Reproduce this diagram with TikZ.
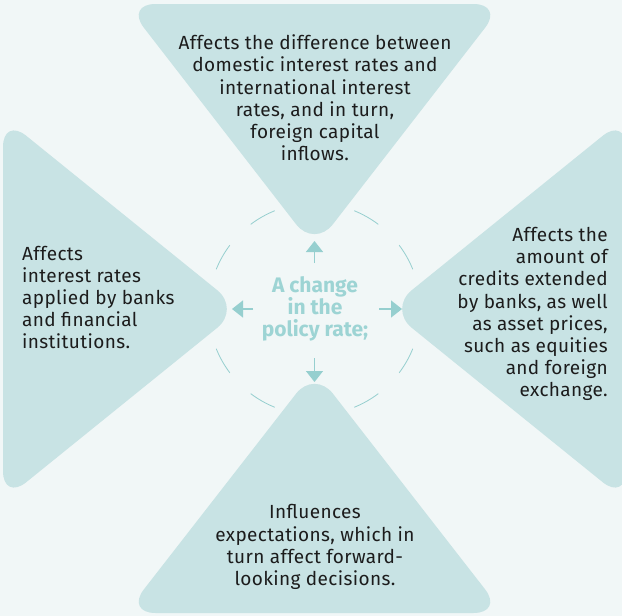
\documentclass[tikz,border=0pt]{standalone}
\usepackage{fontspec}
\setmainfont{Fira Sans}[LetterSpace=2]
\newfontfamily\centerfont{Fira Sans}
\usetikzlibrary{arrows.meta,calc}
\definecolor{bgc}{HTML}{F1F7F7}
\definecolor{tric}{HTML}{C8E3E4}
\definecolor{accent}{HTML}{96CFCF}
\definecolor{ctextc}{HTML}{9DD4D4}
\definecolor{bodyc}{HTML}{1C1C1C}
\tikzset{
  tri/.style={fill=tric, rounded corners=30pt},
  bodytext/.style={text=bodyc, font=\fontsize{19pt}{22.2pt}\selectfont, inner sep=0pt},
  centertext/.style={text=ctextc, font=\centerfont\fontsize{21pt}{21.5pt}\selectfont\bfseries, inner sep=0pt},
  arr/.style={draw=accent, line width=1.3pt, -{Triangle[width=17pt,length=11pt]}},
  dashc/.style={draw=accent, line width=0.8pt}
}
\begin{document}
\begin{tikzpicture}[x=1pt,y=-1pt]
\useasboundingbox (0,0) rectangle (622,616);
\fill[bgc] (0,0) rectangle (622,616);
\begin{scope}
\clip (0,0) rectangle (622,616);
\fill[tri] (125.5,4) -- (503.5,4) -- (314.5,248) -- cycle;
\fill[tri] (3,117) -- (3,501) -- (240.5,309) -- cycle;
\fill[tri] (626,117) -- (626,501) -- (388.5,309) -- cycle;
\fill[tri] (125.5,613) -- (503.5,613) -- (314.5,370) -- cycle;
\end{scope}
\coordinate (O) at (314.5,309);
\foreach \a in {22,53,112,143,202,233,292,323}
  \draw[dashc] (O) ++(\a:106pt) arc[start angle=\a, end angle=\a+15, radius=106pt];
\coordinate (au0) at (314.5,263); \coordinate (au1) at (314.5,241);
\coordinate (ad0) at (314.5,358); \coordinate (ad1) at (314.5,382);
\coordinate (al0) at (253,309); \coordinate (al1) at (232,309);
\coordinate (ar0) at (379,309); \coordinate (ar1) at (402,309);
\draw[arr] (au0) -- (au1);
\draw[arr] (ad0) -- (ad1);
\draw[arr] (al0) -- (al1);
\draw[arr] (ar0) -- (ar1);
\node[centertext, align=center] (center) at (315,308.5) {A change\\in the\\policy rate;};
\node[bodytext, align=center] (top) at (315,98) {Affects the difference between\\domestic interest rates and\\international interest\\rates, and in turn,\\foreign capital\\inflows.};
\node[bodytext, align=left, anchor=west] (left) at (22,297.5) {Affects\\interest rates\\applied by banks\\and financial\\institutions.};
\node[bodytext, align=right, anchor=east] (right) at (608,314) {Affects the\\amount of\\credits extended\\by banks, as well\\as asset prices,\\such as equities\\and foreign\\exchange.};
\node[bodytext, align=center] (bottom) at (315,547) {Influences\\expectations, which in\\turn affect forward-\\looking decisions.};
\end{tikzpicture}
\end{document}
